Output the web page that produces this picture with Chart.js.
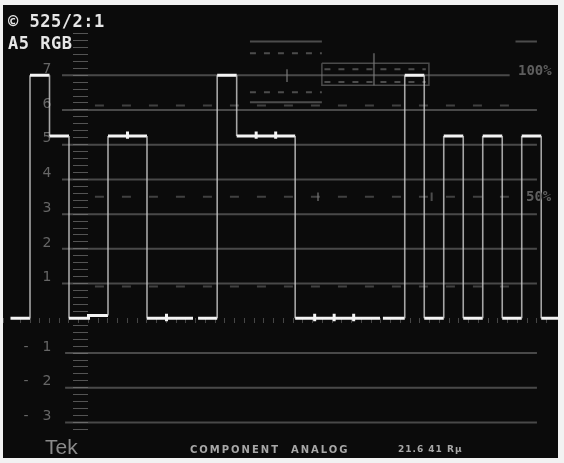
<!DOCTYPE html>
<html>
<head>
<meta charset="utf-8">
<script src="https://cdn.jsdelivr.net/npm/chart.js@4/dist/chart.umd.min.js"></script>
<style>
  html, body { margin: 0; padding: 0; background: #fff; }
  #wrap { position: relative; width: 564px; height: 463px; background: #f2f2f2; overflow: hidden; }
  #scope { position: absolute; left: 3px; top: 5px; width: 555px; height: 453px; background: #0b0b0b; }
  .txt { position: absolute; white-space: nowrap; line-height: 1; }
  .hud { font-family: "DejaVu Sans Mono", monospace; font-weight: bold; font-size: 17px; color: #e6e6e6; letter-spacing: 0.5px; }
  .pct { font-family: "DejaVu Sans Mono", monospace; font-weight: bold; font-size: 14px; color: #5e5e5e; }
  .foot { font-family: "DejaVu Sans", sans-serif; font-weight: bold; font-size: 10px; color: #a8a8a8; letter-spacing: 2px; }
</style>
</head>
<body>
<div id="wrap">
  <div id="scope"><canvas id="wfm" width="555" height="453"></canvas></div>
  <div class="txt hud" style="left:8px; top:13px;">© 525/2:1</div>
  <div class="txt hud" style="left:8px; top:35px;">A5 RGB</div>
  <div class="txt pct" style="left:518px; top:63px;">100%</div>
  <div class="txt pct" style="left:526px; top:189px;">50%</div>
  <div class="txt" style="left:45px; top:436px; font-family:'Liberation Sans',sans-serif; font-size:21px; color:#8a8a8a;">Tek</div>
  <div class="txt foot" style="left:190px; top:445px;">COMPONENT&nbsp;&nbsp;ANALOG</div>
  <div class="txt foot" style="left:398px; top:445px; font-size:9px; letter-spacing:1px;">21.6 41 Rµ</div>
</div>
<script>
// colour bar parade, levels in graticule units (7 = 100%, 5.25 = 75%)
const barNames = ['White', 'Yellow', 'Cyan', 'Green', 'Magenta', 'Red', 'Blue', 'Black'];
const levelsR = [7, 5.25, 0, 0.08, 5.25, 5.25, 0, 0];
const levelsG = [7, 5.25, 5.25, 5.25, 0, 0, 0, 0];
const levelsB = [7, 0, 5.25, 0, 5.25, 0, 5.25, 0];
// where each channel starts, in bar widths
const channelStart = [0, 9.6, 19.22];
const baselineGaps = [[8.36, 8.62], [17.95, 18.1]];
const traceStart = -1.0;
const traceEnd = 27.4;

// graticule
const gratLevels = [7, 6, 5, 4, 3, 2, 1, -1, -2, -3];
const markerLevels = [6.13, 3.5, 0.92];
const yLabels = [7, 6, 5, 4, 3, 2, 1, -1, -2, -3];

const X_MIN = -1.385, X_MAX = 27.08;

function buildTrace() {
  const pts = [{ x: traceStart, y: 0 }];
  [levelsR, levelsG, levelsB].forEach((lv, c) => {
    const s = channelStart[c];
    pts.push({ x: s, y: 0 });
    lv.forEach((v, k) => {
      const x = s + k;
      if (k > 0 && v === lv[k - 1]) {
        // small transition glitch between equal bars
        pts.push({ x, y: v + 0.13 }, { x, y: v - 0.08 });
      }
      pts.push({ x, y: v }, { x: x + 1, y: v });
    });
    pts.push({ x: s + 8, y: 0 });
    const g = baselineGaps[c];
    if (g) pts.push({ x: g[0], y: 0 }, { x: g[0], y: null }, { x: g[1], y: 0 });
  });
  pts.push({ x: traceEnd, y: 0 });
  return pts;
}

function seg(x0, x1, y) {
  return [{ x: x0, y }, { x: x1, y }, { x: x1, y: null }];
}
function vseg(x, y0, y1) {
  return [{ x, y: y0 }, { x, y: y1 }, { x, y: null }];
}

const gratData = [];
gratLevels.forEach(v => {
  const from = v < 0 ? 1.8 : 1.64;
  const to = v === 7 ? 24.6 : 26.0;
  gratData.push(...seg(from, to, v));
});

const markerData = [];
markerLevels.forEach(v => markerData.push(...seg(3.33, 24.7, v)));

// upper target block
const topSolid = [
  ...seg(11.28, 14.97, 7.97), ...seg(24.9, 26.0, 7.97),
  ...seg(11.28, 14.97, 6.22),
  ...vseg(13.18, 6.8, 7.17), ...vseg(17.64, 6.71, 7.63),
  ...vseg(14.77, 3.38, 3.62), ...vseg(20.6, 3.38, 3.62)
];
const topDashed = [
  ...seg(11.28, 14.97, 7.63), ...seg(11.28, 14.97, 6.51),
  ...seg(15.1, 20.3, 7.17), ...seg(15.1, 20.3, 6.8)
];
const boxData = [
  { x: 14.97, y: 7.34 }, { x: 20.46, y: 7.34 }, { x: 20.46, y: 6.71 },
  { x: 14.97, y: 6.71 }, { x: 14.97, y: 7.34 }
];

const ctx = document.getElementById('wfm').getContext('2d');
new Chart(ctx, {
  type: 'line',
  data: {
    datasets: [
      {
        label: 'RGB parade',
        data: buildTrace(),
        borderColor: '#f2f2f2',
        borderWidth: 3,
        pointRadius: 0,
        segment: {
          borderColor: c => Math.abs(c.p1.parsed.y - c.p0.parsed.y) > 1 ? 'rgba(205,205,205,0.8)' : '#f4f4f4',
          borderWidth: c => Math.abs(c.p1.parsed.y - c.p0.parsed.y) > 1 ? 1.6 : 3
        }
      },
      { label: 'graticule', data: gratData, borderColor: 'rgba(125,125,125,0.55)', borderWidth: 2, pointRadius: 0 },
      { label: 'markers', data: markerData, borderColor: 'rgba(120,120,120,0.5)', borderWidth: 2, borderDash: [9, 18], pointRadius: 0 },
      { label: 'targets', data: topSolid, borderColor: 'rgba(120,120,120,0.6)', borderWidth: 2, pointRadius: 0 },
      { label: 'targets dashed', data: topDashed, borderColor: 'rgba(120,120,120,0.6)', borderWidth: 2, borderDash: [6, 8], pointRadius: 0 },
      { label: 'box', data: boxData, borderColor: 'rgba(110,110,110,0.65)', borderWidth: 1.5, pointRadius: 0 }
    ]
  },
  options: {
    responsive: false,
    animation: false,
    devicePixelRatio: 1,
    events: [],
    layout: { padding: 0, autoPadding: false },
    plugins: { legend: { display: false }, tooltip: { enabled: false } },
    scales: {
      x: {
        type: 'linear', min: X_MIN, max: X_MAX,
        position: { y: 0 },
        grid: { drawOnChartArea: false, drawTicks: true, tickLength: 5, color: 'rgba(120,120,120,0.55)' },
        border: { display: false },
        ticks: { display: false, stepSize: 0.5 }
      },
      y: {
        type: 'linear', min: -4, max: 9,
        position: { x: 2.97 },
        grid: {
          drawOnChartArea: false, drawTicks: true, tickLength: 15,
          color: c => (c.tick && c.tick.value >= -3.25 && c.tick.value <= 8.3) ? 'rgba(115,115,115,0.7)' : 'rgba(0,0,0,0)'
        },
        border: { display: false },
        ticks: { display: false, stepSize: 0.2 }
      },
      yl: {
        axis: 'y', type: 'linear', min: -4, max: 9,
        position: { x: 1.1 },
        grid: { display: false, drawTicks: false },
        border: { display: false },
        ticks: {
          stepSize: 1, padding: 0, labelOffset: -6,
          color: '#666',
          // tiny lineHeight keeps the labels from padding the chart area
          font: { family: 'DejaVu Sans', size: 14, lineHeight: 0.1 },
          callback: v => yLabels.includes(v) ? (v < 0 ? '-\u2002\u2002' + (-v) : String(v)) : ''
        }
      }
    }
  }
});
</script>
</body>
</html>
